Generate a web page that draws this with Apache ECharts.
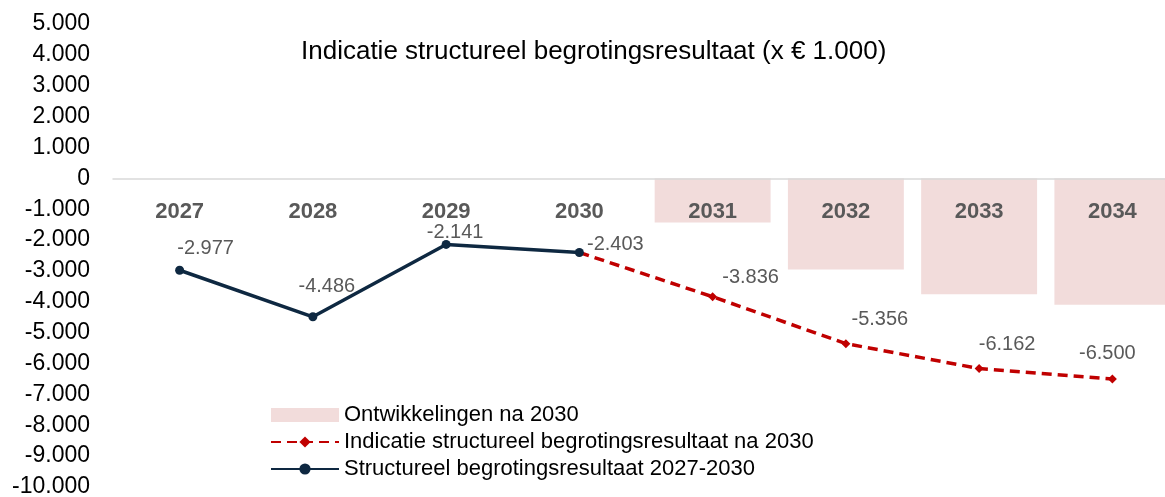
<!DOCTYPE html>
<html><head><meta charset="utf-8">
<script src="https://cdn.jsdelivr.net/npm/echarts@6/dist/echarts.min.js"></script>
<style>html,body{margin:0;padding:0;background:#fff}#c{width:1165px;height:497px}</style>
</head><body><div id="c"></div>
<script>
const categories = ['2027','2028','2029','2030','2031','2032','2033','2034'];
const structureel = [-2977, -4486, -2141, -2403, null, null, null, null];
const indicatie = [null, null, null, -2403, -3836, -5356, -6162, -6500];
const ontwikkelingen = [null, null, null, null, -1433, -2953, -3759, -4097];

const navyOffsets = [[26,-22],[14,-30],[9,-12],[36,-8]];
const redOffsets = [null,null,null,null,[38,-19],[34,-24],[28,-24],[-5,-25]];

function fmt(v){
  const s = Math.abs(Math.round(v)).toString().replace(/\B(?=(\d{3})+(?!\d))/g,'.');
  return (v<0?'-':'')+s;
}
const FONT = 'Liberation Sans';
const labelStyle = {color:'#595959', fontSize:20, fontFamily:FONT};

const chart = echarts.init(document.getElementById('c'));
chart.setOption({
  animation:false,
  title:{text:'Indicatie structureel begrotingsresultaat (x € 1.000)', left:296, top:34,
    textStyle:{fontSize:26, fontWeight:'normal', color:'#000', fontFamily:FONT}},
  grid:[
    {left:113, right:-14, top:24, bottom:10, outerBoundsMode:'none', containLabel:false},
    {left:113, right:-14, top:24, bottom:318, outerBoundsMode:'none', containLabel:false}
  ],
  legend:{orient:'vertical', left:265, top:398, itemWidth:68, itemHeight:14, itemGap:3,
    data:[{name:'Ontwikkelingen na 2030', icon:'rect'},'Indicatie structureel begrotingsresultaat na 2030','Structureel begrotingsresultaat 2027-2030'],
    textStyle:{fontSize:22, color:'#000', fontFamily:FONT, lineHeight:24}},
  xAxis:[
    {type:'category', data:categories, gridIndex:0,
      axisLine:{show:false}, axisTick:{show:false}, axisLabel:{show:false}},
    {type:'category', data:categories, gridIndex:1, position:'bottom', z:10,
      axisLine:{onZero:false, lineStyle:{color:'#d9d9d9', width:1.5}},
      axisTick:{show:false},
      axisLabel:{margin:22, fontSize:22, fontWeight:'bold', color:'#595959', fontFamily:FONT}}
  ],
  yAxis:[
    {type:'value', min:-10000, max:5000, interval:1000, gridIndex:0,
      axisLine:{show:false}, axisTick:{show:false}, splitLine:{show:false},
      axisLabel:{margin:23, fontSize:23, color:'#000', fontFamily:FONT, formatter:fmt}},
    {type:'value', min:0, max:5000, gridIndex:1, show:false}
  ],
  series:[
    {name:'Ontwikkelingen na 2030', type:'bar', data:ontwikkelingen, barWidth:'87%',
      itemStyle:{color:'#F2DCDB'}},
    {name:'Indicatie structureel begrotingsresultaat na 2030', type:'line', z:3,
      data:indicatie.map((v,i)=>({value:v, label: redOffsets[i] ? {show:true, position:'inside', offset:redOffsets[i]} : {show:false}})),
      symbol:'diamond', symbolSize:9, showAllSymbol:true,
      lineStyle:{color:'#C00000', width:3.5, type:[10,6]},
      itemStyle:{color:'#C00000'},
      label:Object.assign({formatter:p=>fmt(p.value)}, labelStyle)},
    {name:'Structureel begrotingsresultaat 2027-2030', type:'line', z:4,
      data:structureel.map((v,i)=>({value:v, label: navyOffsets[i] ? {show:true, position:'inside', offset:navyOffsets[i]} : {show:false}})),
      symbol:'circle', symbolSize:9, showAllSymbol:true,
      lineStyle:{color:'#0E2841', width:3.5},
      itemStyle:{color:'#0E2841'},
      label:Object.assign({formatter:p=>fmt(p.value)}, labelStyle)}
  ]
});
</script></body></html>
